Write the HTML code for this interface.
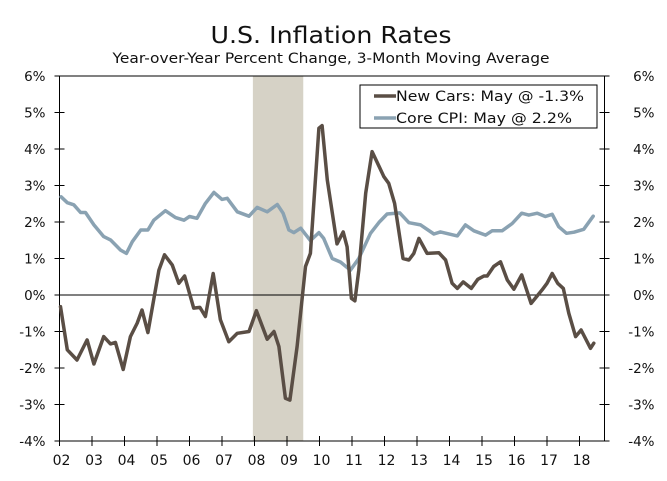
<!DOCTYPE html>
<html><head><meta charset="utf-8"><style>
html,body{margin:0;padding:0;background:#fff;}
svg{display:block;font-family:"DejaVu Sans","Liberation Sans",sans-serif;}
</style></head><body>
<svg id="chart" width="667" height="481" viewBox="0 0 667 481" xmlns="http://www.w3.org/2000/svg">
<text x="331" y="43" font-size="23" text-anchor="middle" textLength="241" lengthAdjust="spacingAndGlyphs" fill="#111">U.S. Inflation Rates</text>
<text x="331" y="63" font-size="14" text-anchor="middle" textLength="437" lengthAdjust="spacingAndGlyphs" fill="#111">Year-over-Year Percent Change, 3-Month Moving Average</text>
<g id="plot"></g>
<g>
<rect x="360" y="85" width="237" height="43" fill="#fff" stroke="#000" stroke-width="1"/>
<line x1="374" y1="96" x2="396" y2="96" stroke="#5a4e45" stroke-width="3.5"/>
<text x="396" y="101" font-size="14" textLength="188" lengthAdjust="spacingAndGlyphs" fill="#111">New Cars: May @ -1.3%</text>
<line x1="374" y1="118" x2="396" y2="118" stroke="#8aa2b2" stroke-width="3.5"/>
<text x="396" y="123" font-size="14" textLength="176" lengthAdjust="spacingAndGlyphs" fill="#111">Core CPI: May @ 2.2%</text>
</g>
</svg>
<script>
const yTicks = [6,5,4,3,2,1,0,-1,-2,-3,-4];
const yearLabels = ["02","03","04","05","06","07","08","09","10","11","12","13","14","15","16","17","18"];
const recession = [2007.95, 2009.5];
const carsDates = [2002.03,2002.24,2002.54,2002.85,2003.06,2003.36,2003.57,2003.72,2003.96,2004.18,2004.39,2004.54,2004.72,2005.06,2005.23,2005.47,2005.67,2005.85,2006.13,2006.32,2006.49,2006.73,2006.95,2007.21,2007.47,2007.83,2008.06,2008.39,2008.6,2008.75,2008.95,2009.09,2009.31,2009.57,2009.72,2009.98,2010.08,2010.24,2010.54,2010.73,2010.85,2010.98,2011.09,2011.21,2011.42,2011.62,2011.98,2012.13,2012.31,2012.57,2012.75,2012.9,2013.06,2013.31,2013.67,2013.88,2014.08,2014.24,2014.42,2014.67,2014.87,2015.06,2015.16,2015.36,2015.57,2015.78,2015.98,2016.22,2016.51,2016.85,2017.0,2017.16,2017.33,2017.5,2017.67,2017.88,2018.05,2018.34,2018.44];
const carsValues = [-0.32,-1.5,-1.78,-1.23,-1.89,-1.14,-1.34,-1.3,-2.04,-1.14,-0.77,-0.41,-1.03,0.68,1.1,0.82,0.32,0.52,-0.36,-0.34,-0.59,0.59,-0.68,-1.28,-1.05,-1.0,-0.43,-1.21,-1.0,-1.41,-2.83,-2.88,-1.41,0.78,1.14,4.57,4.64,3.15,1.4,1.73,1.32,-0.09,-0.16,0.68,2.79,3.93,3.24,3.06,2.51,1.0,0.96,1.14,1.55,1.14,1.16,0.96,0.32,0.18,0.36,0.18,0.43,0.52,0.52,0.78,0.91,0.41,0.16,0.55,-0.23,0.14,0.32,0.59,0.32,0.18,-0.5,-1.14,-0.96,-1.46,-1.32];
const cpiDates = [2002.05,2002.24,2002.44,2002.65,2002.8,2003.06,2003.36,2003.57,2003.88,2004.06,2004.24,2004.5,2004.72,2004.9,2005.26,2005.57,2005.83,2006.0,2006.23,2006.49,2006.75,2007.0,2007.16,2007.47,2007.83,2008.08,2008.39,2008.7,2008.88,2009.06,2009.21,2009.42,2009.72,2009.98,2010.13,2010.39,2010.65,2010.95,2011.21,2011.57,2011.83,2012.08,2012.47,2012.75,2013.11,2013.52,2013.72,2014.24,2014.49,2014.75,2015.11,2015.31,2015.62,2015.93,2016.22,2016.44,2016.7,2016.95,2017.16,2017.36,2017.6,2017.83,2018.13,2018.42];
const cpiValues = [2.69,2.53,2.47,2.26,2.26,1.92,1.6,1.51,1.23,1.14,1.46,1.78,1.78,2.05,2.31,2.12,2.05,2.15,2.1,2.51,2.81,2.62,2.65,2.28,2.16,2.4,2.28,2.48,2.24,1.78,1.71,1.83,1.49,1.71,1.55,1.0,0.9,0.68,1.0,1.69,1.99,2.22,2.25,1.98,1.92,1.67,1.73,1.62,1.92,1.76,1.64,1.76,1.76,1.96,2.24,2.19,2.24,2.15,2.21,1.87,1.69,1.72,1.8,2.16];

const L=59.5, R=604.5, T=76, B=441;
const x0=2002, xPer=32.5;
const xs = t => L + (t - x0) * xPer;
const ys = v => B - (v + 4) / 10 * (B - T);
const NS="http://www.w3.org/2000/svg";
const plot=document.getElementById('plot');
function mk(tag, attrs){const e=document.createElementNS(NS,tag);for(const k in attrs)e.setAttribute(k,attrs[k]);plot.appendChild(e);return e;}

let r=mk('rect',{x:xs(recession[0]),y:T,width:xs(recession[1])-xs(recession[0]),height:B-T,fill:'#d6d2c6'});



let f=mk('line',{x1:L,y1:T,x2:R,y2:T,stroke:'#000','stroke-width':1});


let la=mk('line',{x1:L,y1:T,x2:L,y2:B,stroke:'#000','stroke-width':1});


let ra=mk('line',{x1:R,y1:T,x2:R,y2:B,stroke:'#000','stroke-width':1});


let xa=mk('line',{x1:L,y1:B,x2:R,y2:B,stroke:'#000','stroke-width':1});


let z=mk('line',{x1:L,y1:ys(0),x2:R,y2:ys(0),stroke:'#000','stroke-width':1});



yTicks.forEach(v=>{
  const y=ys(v);
  let t1=mk('line',{x1:L-5,y1:y,x2:L+5,y2:y,stroke:'#000'});
  
  
  let t2=mk('line',{x1:R-5,y1:y,x2:R+5,y2:y,stroke:'#000'});
  
  
  let a=mk('text',{x:L-14,y:y+5,'font-size':13.5,'text-anchor':'end',fill:'#111'});
  a.textContent=v+'%';
  
  
  let b=mk('text',{x:R+50,y:y+5,'font-size':13.5,'text-anchor':'end',fill:'#111'});
  b.textContent=v+'%';
  
  
});
yearLabels.forEach((lab,i)=>{
  const x=xs(x0+i);
  let t=mk('line',{x1:x,y1:B-5,x2:x,y2:B+5,stroke:'#000'});
  
  
  let tx=mk('text',{x:x+2,y:B+24,'font-size':14,'text-anchor':'middle',fill:'#111'});
  tx.textContent=lab;
  
  
});
function line(d,v,color,name){
  const pts=d.map((t,i)=>xs(t).toFixed(1)+','+ys(v[i]).toFixed(1)).join(' ');
  let p=mk('polyline',{points:pts,fill:'none',stroke:color,'stroke-width':3.5,'stroke-linejoin':'round','stroke-linecap':'round'});
  
  
}
line(cpiDates,cpiValues,'#8aa2b2','core-cpi-line');
line(carsDates,carsValues,'#5a4e45','new-cars-line');
</script>
</body></html>
